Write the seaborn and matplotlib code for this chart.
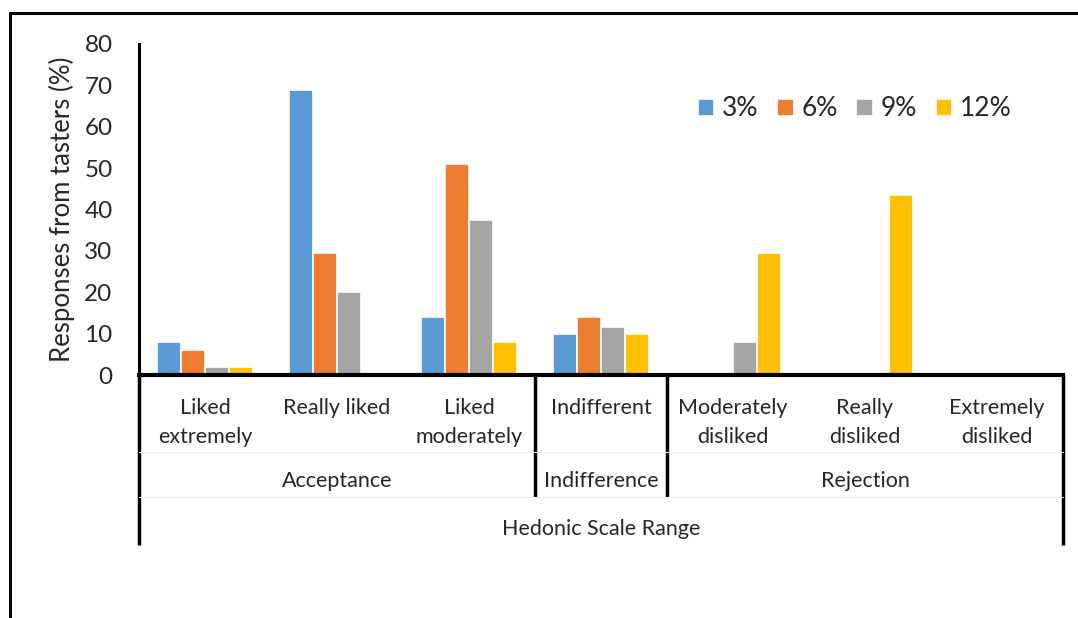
import matplotlib
matplotlib.use("Agg")
import matplotlib.pyplot as plt
import seaborn as sns
import pandas as pd
from matplotlib.lines import Line2D

categories = ["Liked\nextremely", "Really liked", "Liked\nmoderately", "Indifferent",
              "Moderately\ndisliked", "Really\ndisliked", "Extremely\ndisliked"]
series_names = ["3%", "6%", "9%", "12%"]
v3 = [8, 69, 14, 10, 0, 0, 0]
v6 = [6, 29.5, 51, 14, 0, 0, 0]
v9 = [2, 20, 37.5, 11.5, 8, 0, 0]
v12 = [2, 0, 8, 10, 29.5, 43.5, 0]
groups = ["Acceptance", "Indifference", "Rejection"]
group_spans = [(0, 3), (3, 4), (4, 7)]
yticks = [0, 10, 20, 30, 40, 50, 60, 70, 80]
colors = ["#5B9BD5", "#ED7D31", "#A5A5A5", "#FFC000"]

rows = []
for name, vals in zip(series_names, [v3, v6, v9, v12]):
    for c, v in zip(categories, vals):
        rows.append({"cat": c, "series": name, "val": v})
df = pd.DataFrame(rows)

sns.set_style("white")
plt.rcParams["font.family"] = ["Lato", "DejaVu Sans"]

W, H = 1078, 618
fig = plt.figure(figsize=(W / 100, H / 100), dpi=100)
x0, x1, y0, y1 = 139, 1063, 375, 44
ax = fig.add_axes([x0 / W, 1 - y0 / H, (x1 - x0) / W, (y0 - y1) / H])

sns.barplot(data=df, x="cat", y="val", hue="series", order=categories,
            hue_order=series_names, palette=colors, width=0.72, saturation=1,
            edgecolor="white", linewidth=1.2, ax=ax, legend=True)

ax.set_xlim(-0.5, 6.5)
ax.set_ylim(0, 80)
ax.set_yticks(yticks)
ax.set_yticklabels([str(t) for t in yticks], fontsize=17.5)
ax.tick_params(axis="y", length=0, pad=19)
ax.set_xticks([])
ax.set_xlabel("")
ax.set_ylabel("Responses from tasters (%)", fontsize=18.5, labelpad=7)
for s in ["top", "right"]:
    ax.spines[s].set_visible(False)
ax.spines["left"].set_linewidth(2.2)
ax.spines["left"].set_color("black")
ax.spines["bottom"].set_linewidth(3)
ax.spines["bottom"].set_color("black")

ax.legend(loc="center left", bbox_to_anchor=(698 / W, 1 - 109 / H),
          bbox_transform=fig.transFigure, ncol=4, frameon=False,
          fontsize=19, handlelength=0.62, handleheight=0.62, handletextpad=0.3,
          columnspacing=0.7, borderaxespad=0, borderpad=0)

def ay(p):
    return (y0 - p) / (y0 - y1)

tr = ax.get_xaxis_transform()
# category labels
for i, c in enumerate(categories):
    ax.text(i, ay(398), c, transform=tr, ha="center", va="top", fontsize=15.5,
            linespacing=1.55, clip_on=False)
# group labels
for g, (a, b) in zip(groups, group_spans):
    ax.text((a + b - 1) / 2, ay(481), g, transform=tr, ha="center", va="center",
            fontsize=15.5, clip_on=False)
ax.text(3, ay(529), "Hedonic Scale Range", transform=tr, ha="center", va="center",
        fontsize=15.5, clip_on=False)

# table lines
def vline(x, pbot, lw=2.5):
    ax.add_line(Line2D([x, x], [0, ay(pbot)], transform=tr, color="black", lw=lw,
                       clip_on=False, solid_capstyle="butt"))

vline(-0.5, 545)
vline(6.5, 545)
vline(2.5, 497)
vline(3.5, 497)
for p in [452, 497]:
    ax.add_line(Line2D([-0.5, 6.5], [ay(p), ay(p)], transform=tr, color="#f0f0f0",
                       lw=0.8, clip_on=False))

# figure border
fig.add_artist(Line2D([10 / W, 10 / W], [0, 1 - 13 / H], transform=fig.transFigure,
                      color="black", lw=2.2))
fig.add_artist(Line2D([10 / W, 1], [1 - 13 / H, 1 - 13 / H], transform=fig.transFigure,
                      color="black", lw=2.2))

fig.savefig("out.png", dpi=100)
